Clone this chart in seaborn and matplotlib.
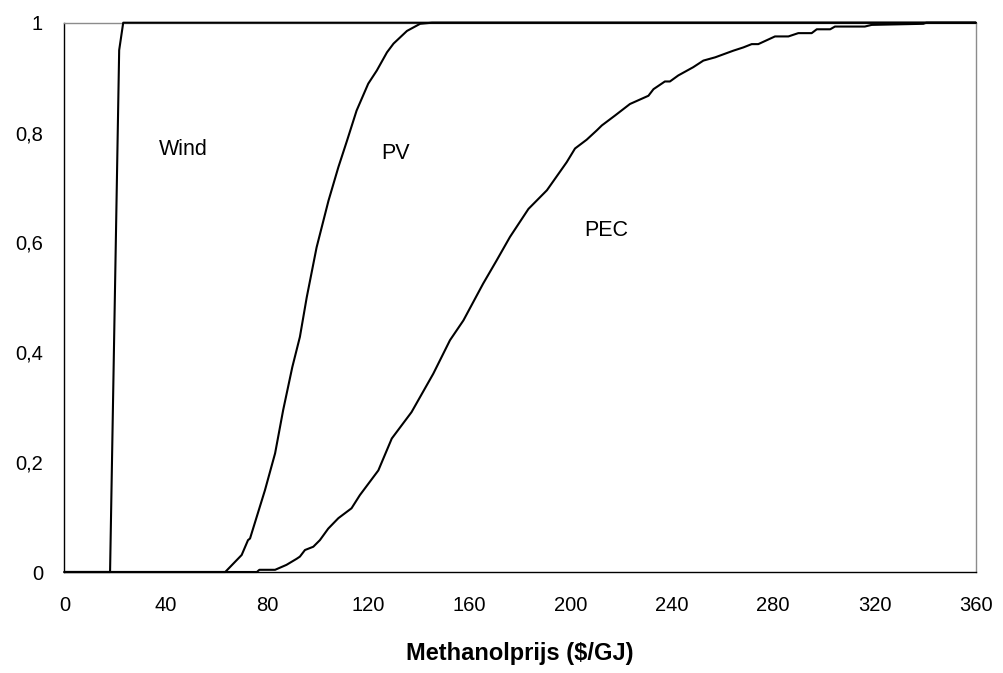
import matplotlib
matplotlib.use("Agg")
import matplotlib.pyplot as plt
import seaborn as sns
import pandas as pd

# ---- data ----
wind_x = [0, 18.0, 21.6, 23.2, 360]
wind_y = [0, 0, 0.95, 1.0, 1.0]

pv_x = [0, 63.5, 70.0, 72.5, 73.3, 79.2, 83.2, 86.4, 90.0, 93.0, 95.7, 99.6,
        104.3, 108.2, 111.6, 115.4, 120.0, 123.4, 127.4, 130.0, 135.3, 140.5,
        145.2, 360]
pv_y = [0, 0, 0.031, 0.058, 0.061, 0.149, 0.216, 0.295, 0.373, 0.428, 0.50,
        0.591, 0.676, 0.737, 0.785, 0.84, 0.889, 0.913, 0.946, 0.962, 0.985,
        0.998, 1.0, 1.0]

pec_x = [0, 76.0, 77.0, 83.2, 87.7, 91.7, 93.0, 95.0, 98.3, 100.9, 104.2,
         108.2, 113.4, 116.7, 124.0, 129.3, 137.1, 145.7, 148.3, 152.3, 157.6,
         165.4, 170.7, 176.0, 183.3, 190.6, 198.4, 201.7, 206.3, 210.3, 212.3,
         217.5, 223.4, 230.7, 232.7, 237.2, 239.2, 242.5, 248.4, 252.4, 257.1,
         264.2, 268.2, 271.5, 274.1, 280.7, 286.0, 289.9, 295.2, 297.2, 302.5,
         304.4, 316.2, 318.9, 339.3, 340.5, 360]
pec_y = [0, 0, 0.004, 0.004, 0.013, 0.024, 0.028, 0.04, 0.046, 0.058, 0.079,
         0.098, 0.116, 0.14, 0.185, 0.243, 0.291, 0.361, 0.385, 0.422, 0.458,
         0.525, 0.567, 0.61, 0.661, 0.695, 0.746, 0.771, 0.787, 0.804, 0.813,
         0.831, 0.852, 0.867, 0.879, 0.893, 0.893, 0.904, 0.919, 0.931, 0.937,
         0.949, 0.955, 0.961, 0.961, 0.975, 0.975, 0.981, 0.981, 0.988, 0.988,
         0.993, 0.993, 0.996, 0.998, 1.0, 1.0]

series_names = ["Wind", "PV", "PEC"]
label_pos = {"Wind": (46.9, 0.770), "PV": (130.6, 0.762), "PEC": (214.2, 0.622)}

x_ticks = [0, 40, 80, 120, 160, 200, 240, 280, 320, 360]
y_ticks = [0, 0.2, 0.4, 0.6, 0.8, 1.0]
y_tick_labels = ["0", "0,2", "0,4", "0,6", "0,8", "1"]
x_label = "Methanolprijs ($/GJ)"

# ---- build table ----
frames = []
for name, xs, ys in [("Wind", wind_x, wind_y), ("PV", pv_x, pv_y), ("PEC", pec_x, pec_y)]:
    frames.append(pd.DataFrame({"price": xs, "p": ys, "series": name}))
df = pd.concat(frames, ignore_index=True)

sns.set_theme(style="white")
plt.rcParams["font.family"] = ["Liberation Sans", "DejaVu Sans"]
plt.rcParams["text.color"] = "black"
plt.rcParams["axes.labelcolor"] = "black"

fig = plt.figure(figsize=(10.04, 6.73), dpi=100)
ax = fig.add_axes([64.5 / 1004, 1 - 572 / 673, (975.7 - 64.5) / 1004, (572 - 22.7) / 673])

for name in series_names:
    sub = df[df["series"] == name]
    sns.lineplot(data=sub, x="price", y="p", ax=ax, color="black", linewidth=1.5,
                 estimator=None, sort=False, legend=False, clip_on=False, zorder=3)

for name in series_names:
    x, y = label_pos[name]
    ax.text(x, y, name, ha="center", va="center", fontsize=15.5, color="black")

ax.set_xlim(0, 360)
ax.set_ylim(0, 1)
ax.set_xticks(x_ticks)
ax.set_xticklabels([str(t) for t in x_ticks])
ax.set_yticks(y_ticks)
ax.set_yticklabels(y_tick_labels)
ax.set_xlabel(x_label, fontsize=17, fontweight="bold", labelpad=19, color="black")
ax.set_ylabel("")

ax.tick_params(axis="both", direction="inout", length=15, width=1.0, color="black",
               labelsize=14.5, labelcolor="black")
ax.tick_params(axis="x", pad=10)
ax.tick_params(axis="y", pad=8)

for side in ["left", "bottom"]:
    ax.spines[side].set_color("black")
    ax.spines[side].set_linewidth(1.0)
    ax.spines[side].set_visible(True)
for side in ["top", "right"]:
    ax.spines[side].set_color("#8c8c8c")
    ax.spines[side].set_linewidth(1.0)
    ax.spines[side].set_visible(True)

ax.grid(False)
fig.savefig("out.png", dpi=100, facecolor="white")
